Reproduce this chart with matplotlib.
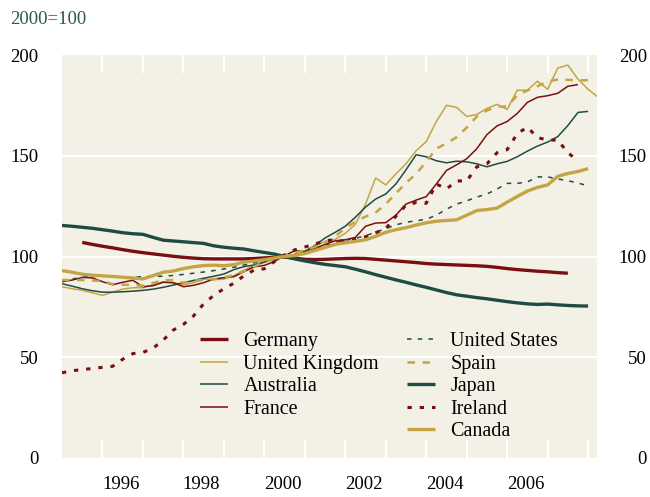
import numpy as np
import matplotlib
matplotlib.use("Agg")
import matplotlib.pyplot as plt

plt.rcParams['font.family'] = ['Liberation Serif', 'DejaVu Serif']

# ── Colours ───────────────────────────────────────────────────────────────────
RED = '#7a0f12'
GOLD = '#c4a446'
TEAL = '#1e4c44'
BG = '#f3f1e5'

# ── Data (quarterly, 2000 = 100) ──────────────────────────────────────────────
countries = ['Germany', 'United Kingdom', 'Australia', 'France',
             'United States', 'Spain', 'Japan', 'Ireland', 'Canada']

start_full = 1995.0
start_germany = 1995.5

germany = [107.0, 106.0,
           105.1, 104.3, 103.4, 102.6,
           101.9, 101.3, 100.7, 100.1,
           99.6, 99.2, 98.9, 98.8,
           98.8, 98.8, 98.8, 99.0,
           99.3, 99.6, 99.7, 99.2,
           98.6, 98.5, 98.6, 98.8,
           99.0, 99.1, 99.0, 98.6,
           98.2, 97.8, 97.4, 97.0,
           96.5, 96.2, 96.0, 95.8,
           95.6, 95.4, 95.1, 94.6,
           94.0, 93.5, 93.1, 92.7,
           92.4, 92.0, 91.7]

united_kingdom = [85.0, 84.0, 83.2, 82.0,
                  80.7, 82.3, 83.8, 84.5,
                  84.5, 86.0, 87.5, 87.0,
                  86.0, 87.0, 88.7, 88.5,
                  88.8, 90.5, 93.3, 95.5,
                  97.0, 98.5, 100.0, 101.0,
                  102.5, 105.0, 107.5, 108.5,
                  111.5, 116.0, 126.0, 139.0,
                  135.5, 141.0, 146.0, 152.5,
                  157.0, 167.0, 175.0, 174.0,
                  169.5, 170.5, 173.5, 175.5,
                  173.0, 182.5, 182.5, 187.0,
                  183.0, 193.5, 195.0, 188.0,
                  183.0, 179.0]

australia = [86.5, 85.3, 84.0, 83.0,
             82.3, 82.3, 82.5, 82.8,
             83.2, 83.8, 84.7, 85.8,
             87.0, 88.1, 89.2, 90.2,
             91.3, 93.5, 95.0, 95.8,
             97.3, 99.0, 100.0, 100.5,
             102.5, 105.5, 109.2, 112.0,
             115.0, 119.5, 124.5, 128.5,
             131.0, 136.0, 143.0, 150.5,
             149.5, 147.5, 146.5, 147.3,
             147.0, 146.0, 144.5, 146.0,
             147.2, 149.5, 152.3, 154.8,
             156.8, 159.5, 165.0, 171.5,
             172.0]

france = [87.5, 88.3, 89.6, 89.4,
          87.5, 86.0, 87.2, 88.2,
          85.0, 85.5, 87.2, 87.0,
          85.0, 85.7, 87.0, 88.8,
          89.5, 90.0, 92.5, 94.9,
          95.6, 97.5, 100.5, 102.8,
          102.5, 104.0, 106.0, 107.8,
          108.3, 109.5, 115.0, 116.6,
          116.8, 120.5, 126.0, 128.0,
          129.7, 136.0, 142.7, 145.5,
          148.5, 153.5, 160.5, 164.8,
          167.0, 171.0, 176.5, 179.0,
          179.8, 181.0, 184.5, 185.3]

united_states = [88.0, 88.8, 89.7, 90.1,
                 90.3, 90.1, 89.8, 89.8,
                 90.0, 90.1, 90.2, 90.6,
                 91.1, 91.7, 92.3, 93.0,
                 93.8, 94.7, 95.8, 96.8,
                 97.9, 98.8, 100.0, 101.2,
                 102.5, 104.0, 105.5, 107.0,
                 108.0, 109.0, 110.3, 112.0,
                 113.8, 115.7, 117.0, 117.7,
                 118.5, 120.5, 123.5, 126.0,
                 127.6, 129.5, 131.0, 133.5,
                 136.3, 136.3, 137.0, 139.5,
                 139.5, 138.5, 137.6, 136.5,
                 135.0]

spain = [88.3, 88.3, 88.3, 88.1,
         87.8, 86.3, 86.0, 85.8,
         85.5, 86.8, 88.3, 88.3,
         87.0, 88.0, 88.3, 88.7,
         89.5, 90.8, 92.7, 95.0,
         97.3, 99.0, 100.5, 101.8,
         103.0, 104.8, 107.0, 110.0,
         114.0, 117.3, 119.8, 121.8,
         126.0, 131.3, 136.5, 141.0,
         147.0, 153.5, 156.2, 159.2,
         164.0, 169.5, 172.5, 174.3,
         174.5, 180.0, 182.4, 184.5,
         186.9, 187.8, 187.7, 187.4,
         187.5]

japan = [115.4, 115.0, 114.5, 114.0,
         113.3, 112.6, 111.8, 111.3,
         111.0, 109.5, 108.1, 107.7,
         107.3, 106.9, 106.5, 105.3,
         104.6, 104.1, 103.7, 102.8,
         102.0, 101.2, 100.0, 98.8,
         97.8, 96.9, 96.1, 95.5,
         94.9, 93.7, 92.4, 91.0,
         89.7, 88.4, 87.2, 85.9,
         84.7, 83.4, 82.1, 81.0,
         80.3, 79.6, 79.0, 78.3,
         77.6, 77.0, 76.5, 76.2,
         76.4, 76.0, 75.7, 75.5,
         75.4]

ireland = [42.3, 43.3, 43.9, 44.4,
           45.0, 45.5, 49.0, 51.8,
           52.4, 54.5, 58.5, 63.5,
           66.3, 70.5, 76.5, 80.7,
           84.0, 86.8, 90.5, 93.3,
           93.9, 97.5, 100.8, 103.3,
           104.7, 106.2, 107.8, 108.3,
           107.5, 108.5, 109.8, 111.8,
           113.8, 120.0, 125.5, 126.8,
           126.4, 136.0, 133.5, 137.5,
           137.5, 144.5, 146.0, 151.5,
           153.0, 161.0, 164.2, 159.0,
           157.8, 157.8, 151.5, 147.5]

canada = [93.0, 92.2, 91.2, 90.7,
          90.4, 90.1, 89.7, 89.3,
          88.9, 90.5, 92.2, 92.8,
          94.0, 94.9, 95.5, 95.7,
          95.4, 96.0, 97.2, 97.8,
          98.4, 99.3, 100.0, 100.5,
          101.5, 103.0, 104.5, 106.0,
          106.8, 107.5, 108.3, 110.0,
          112.0, 113.3, 114.3, 115.6,
          116.7, 117.5, 117.9, 118.2,
          120.5, 122.8, 123.3, 124.0,
          127.0, 129.8, 132.5, 134.3,
          135.5, 139.8, 141.2, 142.2,
          143.6]

y_ticks = [0, 50, 100, 150, 200]
x_label_years = [1996, 1998, 2000, 2002, 2004, 2006]

# ── Styles ────────────────────────────────────────────────────────────────────
styles = {
    'Germany':        dict(color=RED, lw=2.4),
    'United Kingdom': dict(color=GOLD, lw=1.1),
    'Australia':      dict(color=TEAL, lw=1.1),
    'France':         dict(color=RED, lw=1.1),
    'United States':  dict(color=TEAL, lw=1.1, dashes=(3, 4)),
    'Spain':          dict(color=GOLD, lw=1.8, dashes=(3, 3)),
    'Japan':          dict(color=TEAL, lw=2.4),
    'Ireland':        dict(color=RED, lw=2.2, dashes=(1.4, 2.6)),
    'Canada':         dict(color=GOLD, lw=2.4),
}

series = {
    'Germany': (start_germany, germany),
    'United Kingdom': (start_full, united_kingdom),
    'Australia': (start_full, australia),
    'France': (start_full, france),
    'United States': (start_full, united_states),
    'Spain': (start_full, spain),
    'Japan': (start_full, japan),
    'Ireland': (start_full, ireland),
    'Canada': (start_full, canada),
}

# ── Figure ────────────────────────────────────────────────────────────────────
fig = plt.figure(figsize=(6.5, 4.97), dpi=100)
ax = fig.add_axes([62 / 650, 1 - 458 / 497, 535 / 650, 403 / 497])
ax.set_facecolor(BG)
for s in ax.spines.values():
    s.set_visible(False)

for yv in [50, 100, 150]:
    ax.axhline(yv, color='white', lw=1.6, zorder=1)

handles = {}
for name in countries:
    start, vals = series[name]
    t = start + 0.25 * np.arange(len(vals))
    line, = ax.plot(t, vals, label=name, zorder=3, solid_capstyle='butt',
                    **styles[name])
    handles[name] = line

ax.set_xlim(1995.0, 2008.22)
ax.set_ylim(0, 200)

# year ticks (white, inside) and centred year labels
ax.set_xticks(np.arange(1996, 2009))
ax.set_xticklabels([])
ax.tick_params(axis='x', which='major', direction='in', length=13, width=1.5,
               color='white', top=True, bottom=True)
ax.set_xticks([y + 0.45 for y in x_label_years], minor=True)
ax.set_xticklabels([str(y) for y in x_label_years], minor=True)
ax.tick_params(axis='x', which='minor', length=0, pad=13, labelsize=13.5)

ax.set_yticks(y_ticks)
ax.tick_params(axis='y', length=0, pad=17, labelsize=13.5)

ax2 = ax.twinx()
ax2.set_ylim(0, 200)
ax2.set_yticks(y_ticks)
for s in ax2.spines.values():
    s.set_visible(False)
ax2.tick_params(axis='y', length=0, pad=36, labelsize=13.5)
for lab in ax2.get_yticklabels():
    lab.set_horizontalalignment('right')

fig.text(10 / 650, 1 - 20 / 497, '2000=100', color='#2b5a51', fontsize=13.5,
         ha='left', va='center')

# legend in two blocks
leg_kw = dict(frameon=False, fontsize=14.5, handlelength=1.4, handletextpad=0.75,
              labelspacing=0.17, borderpad=0, borderaxespad=0, loc='upper left')
col1 = countries[:4]
col2 = countries[4:]
leg1 = ax.legend([handles[c] for c in col1], col1,
                 bbox_to_anchor=(200 / 650, 1 - 332 / 497),
                 bbox_transform=fig.transFigure, **leg_kw)
ax.add_artist(leg1)
ax.legend([handles[c] for c in col2], col2,
          bbox_to_anchor=(407 / 650, 1 - 332 / 497),
          bbox_transform=fig.transFigure, **leg_kw)

plt.savefig('out.png', dpi=100)
